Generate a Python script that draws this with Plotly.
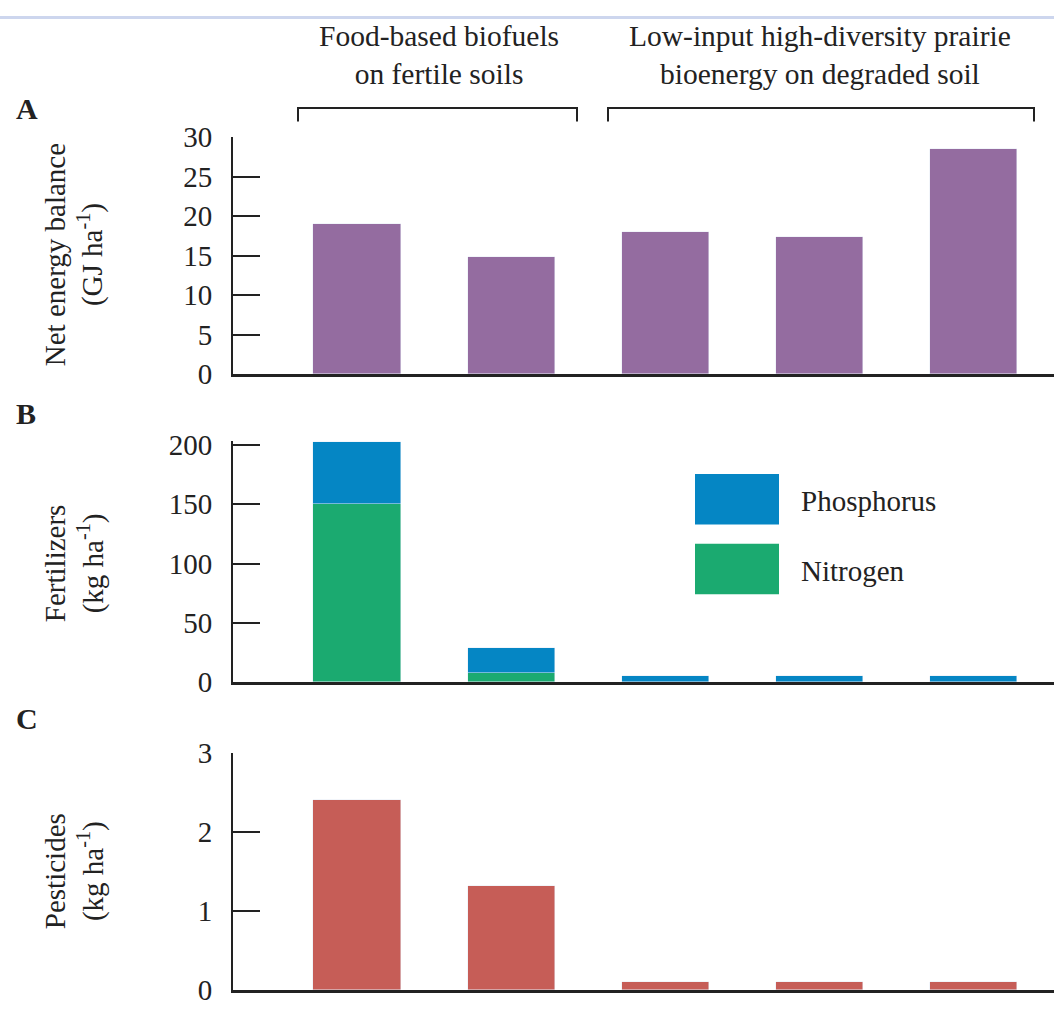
import plotly.graph_objects as go

# ---------------- data ----------------
systems = ["Corn grain ethanol", "Soybean biodiesel", "LIHD ethanol",
           "LIHD electricity", "LIHD synfuel"]
net_energy = [19.0, 14.8, 18.0, 17.3, 28.5]          # GJ ha-1
nitrogen = [150, 7.5, 0, 0, 0]                       # kg ha-1
phosphorus = [52, 21, 5.5, 5.5, 5.5]                  # kg ha-1
pesticides = [2.4, 1.32, 0.1, 0.1, 0.1]               # kg ha-1

energy_ticks = [0, 5, 10, 15, 20, 25, 30]
fert_ticks = [0, 50, 100, 150, 200]
pest_ticks = [0, 1, 2, 3]

group_labels = ["Food-based biofuels<br>on fertile soils",
                "Low-input high-diversity prairie<br>bioenergy on degraded soil"]
panel_letters = ["A", "B", "C"]
y_titles = ["Net energy balance<br>(GJ ha<sup>-1</sup>)",
            "Fertilizers<br>(kg ha<sup>-1</sup>)",
            "Pesticides<br>(kg ha<sup>-1</sup>)"]

# ---------------- style ----------------
W, H = 1054, 1015
FONT = "Liberation Serif, Times New Roman, serif"
INK = "#222222"
C_PURPLE = "#946CA0"
C_BLUE = "#0586C4"
C_GREEN = "#1BAA70"
C_RED = "#C65D57"


def px(x):
    return x / W


def py(y):
    return 1 - y / H


fig = go.Figure()

BW = 0.565
fig.add_trace(go.Bar(x=systems, y=net_energy, marker_color=C_PURPLE, width=BW,
                     xaxis="x", yaxis="y", showlegend=False))
fig.add_trace(go.Bar(x=systems, y=nitrogen, marker_color=C_GREEN, width=BW,
                     xaxis="x2", yaxis="y2", name="Nitrogen", showlegend=False))
fig.add_trace(go.Bar(x=systems, y=phosphorus, marker_color=C_BLUE, width=BW,
                     xaxis="x2", yaxis="y2", name="Phosphorus", showlegend=False))
fig.add_trace(go.Bar(x=systems, y=pesticides, marker_color=C_RED, width=BW,
                     xaxis="x3", yaxis="y3", showlegend=False))

xdom = [px(233), 1.0]
xr = [-0.804, 4.52]
xcommon = dict(domain=xdom, range=xr, showticklabels=False, ticks="",
               showline=True, linecolor=INK, linewidth=2.5, showgrid=False,
               zeroline=False, type="category", categoryorder="array",
               categoryarray=systems)
ycommon = dict(showline=True, linecolor=INK, linewidth=2, ticks="inside",
               ticklen=27, tickwidth=2, tickcolor=INK, showgrid=False,
               zeroline=False, ticklabelstandoff=13,
               tickfont=dict(family=FONT, size=29, color=INK))

fig.update_layout(
    width=W, height=H,
    margin=dict(l=0, r=0, t=0, b=0),
    paper_bgcolor="white", plot_bgcolor="white",
    barmode="stack", bargap=0,
    showlegend=False,
    xaxis=dict(**xcommon, anchor="y"),
    xaxis2=dict(**xcommon, anchor="y2"),
    xaxis3=dict(**xcommon, anchor="y3"),
    yaxis=dict(**ycommon, anchor="x", domain=[py(370), py(125)],
               range=[0, 30], tickvals=energy_ticks),
    yaxis2=dict(**ycommon, anchor="x2", domain=[py(688), py(439)],
                range=[0, 203], tickvals=fert_ticks),
    yaxis3=dict(**ycommon, anchor="x3", domain=[py(1006), py(761)],
                range=[0, 3], tickvals=pest_ticks),
)

annotations = []
# group headers
for lbl, cx in zip(group_labels, [439, 820]):
    annotations.append(dict(text=lbl, x=px(cx), y=py(40), xref="paper", yref="paper",
                            xanchor="center", yanchor="middle", showarrow=False,
                            font=dict(family=FONT, size=29.5, color=INK)))
# panel letters
for lt, yy in zip(panel_letters, [95, 410, 725]):
    annotations.append(dict(text="<b>" + lt + "</b>", x=px(14), y=py(yy), xref="paper",
                            yref="paper", xanchor="left", yanchor="middle",
                            showarrow=False, font=dict(family=FONT, size=30, color=INK)))
# y titles
for t, yy in zip(y_titles, [247, 565, 883]):
    annotations.append(dict(text=t, x=px(74), y=py(yy), xref="paper", yref="paper",
                            xanchor="center", yanchor="middle", textangle=-90,
                            showarrow=False, font=dict(family=FONT, size=29, color=INK)))
# legend labels
for t, yy in zip(["Phosphorus", "Nitrogen"], [501, 573]):
    annotations.append(dict(text=t, x=px(799), y=py(yy), xref="paper", yref="paper",
                            xanchor="left", yanchor="middle", showarrow=False,
                            font=dict(family=FONT, size=29, color=INK)))
fig.update_layout(annotations=annotations)

shapes = []
# brackets
for x0, x1 in [(298, 577), (608, 1034)]:
    path = "M {a},{b} L {a},{c} L {d},{c} L {d},{b}".format(
        a=px(x0), b=py(109), c=py(95), d=px(x1))
    shapes.append(dict(type="path", path=path, xref="paper", yref="paper",
                       line=dict(color=INK, width=2)))
# legend swatches
for col, (y0, y1) in [(C_BLUE, (473, 525)), (C_GREEN, (545, 597))]:
    shapes.append(dict(type="rect", xref="paper", yref="paper",
                       x0=px(695), x1=px(779), y0=py(y1), y1=py(y0),
                       fillcolor=col, line=dict(width=0)))
# thin top border as in reference
shapes.append(dict(type="rect", xref="paper", yref="paper", x0=0, x1=1,
                   y0=py(3), y1=1, fillcolor="#CDD6EE", line=dict(width=0)))
fig.update_layout(shapes=shapes)

post = (
    "document.documentElement.style.margin='0';"
    "document.documentElement.style.overflow='hidden';"
    "document.body.style.margin='0';"
    "document.body.style.overflow='hidden';"
    "document.body.style.height='1015px';"
    "var gd=document.getElementById('{plot_id}');"
    "gd.style.position='fixed';gd.style.top='0px';gd.style.left='0px';"
)
fig.write_html("out.html", config=dict(displayModeBar=False), post_script=post)
